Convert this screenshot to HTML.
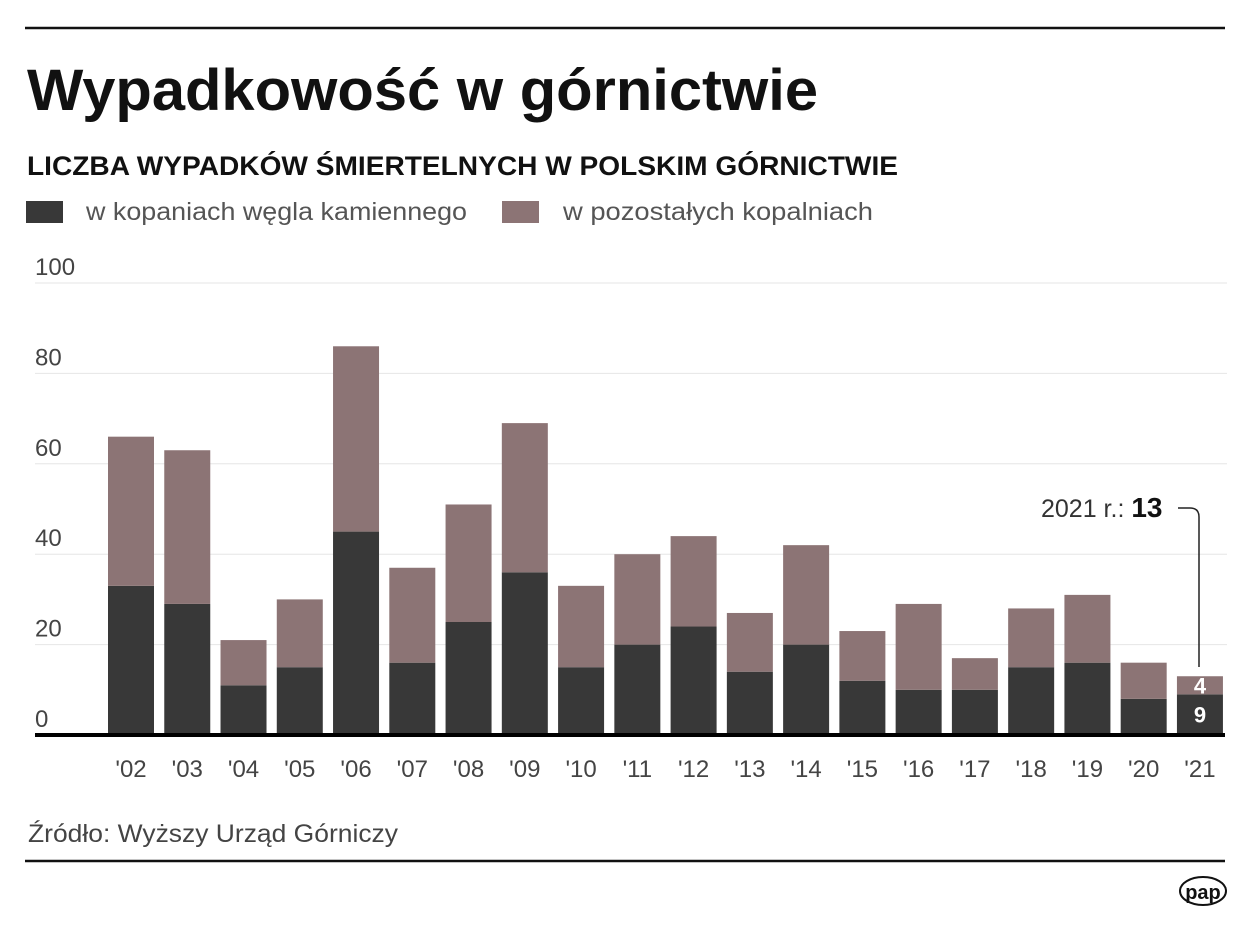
<!DOCTYPE html>
<html><head><meta charset="utf-8"><style>
html,body{margin:0;padding:0;background:#fff;}
svg{display:block;font-family:"Liberation Sans",sans-serif;}
</style></head><body>
<svg width="1250" height="925" viewBox="0 0 1250 925">
<line x1="25" y1="28" x2="1225" y2="28" stroke="#111" stroke-width="2.5"/>
<text x="27" y="110" font-size="58" font-weight="bold" fill="#111" textLength="791" lengthAdjust="spacingAndGlyphs">Wypadkowość w górnictwie</text>
<text x="27" y="175" font-size="27" font-weight="bold" fill="#111" textLength="871" lengthAdjust="spacingAndGlyphs">LICZBA WYPADKÓW ŚMIERTELNYCH W POLSKIM GÓRNICTWIE</text>
<g>
<rect x="26" y="201" width="37" height="22" fill="#383838"/>
<text x="86" y="220" font-size="25" fill="#555" textLength="381" lengthAdjust="spacingAndGlyphs">w kopaniach węgla kamiennego</text>
<rect x="502" y="201" width="37" height="22" fill="#8c7475"/>
<text x="563" y="220" font-size="25" fill="#555" textLength="310" lengthAdjust="spacingAndGlyphs">w pozostałych kopalniach</text>
</g>
<g id="grid"></g>
<g id="bars"></g>
<line x1="35" y1="735" x2="1225" y2="735" stroke="#000" stroke-width="4"/>
<g id="xlabels"></g>
<g>
<text x="1041" y="517" font-size="25" fill="#333">2021 r.: <tspan font-weight="bold" fill="#111" font-size="28">13</tspan></text>
<path d="M1178 508 H1190 Q1199 508 1199 517 V667" fill="none" stroke="#222" stroke-width="1.5"/>
</g>
<text x="28" y="842" font-size="25" fill="#444" textLength="370" lengthAdjust="spacingAndGlyphs">Źródło: Wyższy Urząd Górniczy</text>
<line x1="25" y1="861" x2="1225" y2="861" stroke="#111" stroke-width="2.5"/>
<g>
<ellipse cx="1203" cy="891" rx="23" ry="14" fill="#fff" stroke="#111" stroke-width="2"/>
<text x="1203" y="899" font-size="20" font-weight="bold" text-anchor="middle" fill="#111">pap</text>
</g>
</svg>
<script>
const years=["'02","'03","'04","'05","'06","'07","'08","'09","'10","'11","'12","'13","'14","'15","'16","'17","'18","'19","'20","'21"];
const coal=[33,29,11,15,45,16,25,36,15,20,24,14,20,12,10,10,15,16,8,9];
const other=[33,34,10,15,41,21,26,33,18,20,20,13,22,11,19,7,13,15,8,4];
const yTicks=[0,20,40,60,80,100];
const NS="http://www.w3.org/2000/svg";
const y0=735,pxPer=4.52;
function y(v){return y0-v*pxPer;}
function x(i){return 108+i*56.26;}
const bw=46;
const grid=document.getElementById('grid');
yTicks.forEach(t=>{
  if(t>0){const l=document.createElementNS(NS,'line');
  l.setAttribute('x1',35);l.setAttribute('x2',1227);l.setAttribute('y1',y(t));l.setAttribute('y2',y(t));
  l.setAttribute('stroke','#e6e6e6');l.setAttribute('stroke-width','1');
  
  
  grid.appendChild(l);}
  const tx=document.createElementNS(NS,'text');
  tx.setAttribute('x',35);tx.setAttribute('y',y(t)-8);tx.setAttribute('font-size','24');tx.setAttribute('fill','#444');
  tx.textContent=t;
  
  
  grid.appendChild(tx);
});
const bars=document.getElementById('bars'),xl=document.getElementById('xlabels');
years.forEach((yr,i)=>{
  const r1=document.createElementNS(NS,'rect');
  r1.setAttribute('x',x(i));r1.setAttribute('width',bw);r1.setAttribute('y',y(coal[i]));r1.setAttribute('height',coal[i]*pxPer);r1.setAttribute('fill','#383838');
  
  
  bars.appendChild(r1);
  const r2=document.createElementNS(NS,'rect');
  r2.setAttribute('x',x(i));r2.setAttribute('width',bw);r2.setAttribute('y',y(coal[i]+other[i]));r2.setAttribute('height',other[i]*pxPer);r2.setAttribute('fill','#8c7475');
  
  
  bars.appendChild(r2);
  const t=document.createElementNS(NS,'text');
  t.setAttribute('x',x(i)+bw/2);t.setAttribute('y',777);t.setAttribute('font-size','24');t.setAttribute('fill','#444');t.setAttribute('text-anchor','middle');
  t.textContent=yr;
  
  
  xl.appendChild(t);
  if(i===years.length-1){
    [[coal[i],y(coal[i]/2)+8],[other[i],y(coal[i]+other[i]/2)+8]].forEach(p=>{
      const v=document.createElementNS(NS,'text');
      v.setAttribute('x',x(i)+bw/2);v.setAttribute('y',p[1]);v.setAttribute('font-size','22');v.setAttribute('font-weight','bold');v.setAttribute('fill','#fff');v.setAttribute('text-anchor','middle');
      v.textContent=p[0];
      
      
      bars.appendChild(v);
    });
  }
});
</script>
</body></html>
